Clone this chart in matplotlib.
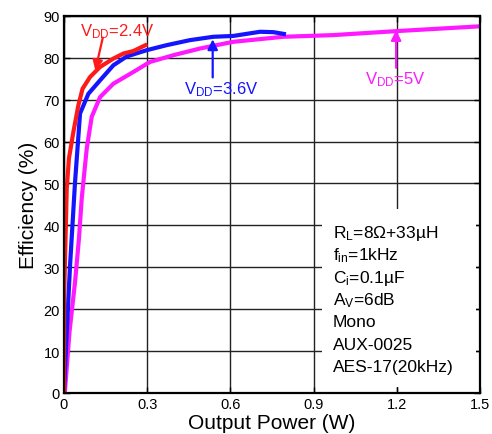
import matplotlib
matplotlib.use("Agg")
import matplotlib.pyplot as plt
from matplotlib.patches import Rectangle

plt.rcParams["font.family"] = ["Liberation Sans", "DejaVu Sans"]
plt.rcParams["mathtext.default"] = "regular"

# Efficiency vs output power
power_24 = [0.0, 0.001, 0.01, 0.018, 0.034, 0.052, 0.067, 0.094, 0.13, 0.178, 0.214, 0.25, 0.30]
eff_24 = [0.0, 24.0, 48.8, 56.0, 62.3, 68.7, 72.6, 75.4, 77.8, 79.8, 81.0, 81.6, 83.2]

power_36 = [0.0, 0.01, 0.022, 0.04, 0.058, 0.088, 0.13, 0.178, 0.226, 0.298, 0.37, 0.454, 0.538,
            0.61, 0.707, 0.755, 0.80]
eff_36 = [0.0, 14.6, 30.5, 50.4, 66.7, 71.4, 74.6, 78.2, 80.3, 81.8, 83.0, 84.2, 85.0,
          85.2, 86.2, 86.1, 85.6]

power_50 = [0.003, 0.02, 0.04, 0.054, 0.064, 0.082, 0.10, 0.13, 0.178, 0.25, 0.31, 0.394, 0.49,
            0.61, 0.79, 0.97, 1.21, 1.50]
eff_50 = [0.0, 14.6, 26.5, 36.8, 46.4, 58.3, 65.9, 70.6, 73.8, 76.6, 79.0, 80.6, 82.2,
          83.8, 85.0, 85.4, 86.4, 87.5]

x_ticks = [0, 0.3, 0.6, 0.9, 1.2, 1.5]
x_tick_labels = ["0", "0.3", "0.6", "0.9", "1.2", "1.5"]
y_ticks = [0, 10, 20, 30, 40, 50, 60, 70, 80, 90]

conditions = [
    "R$_L$=8\u03a9+33\u00b5H",
    "f$_{in}$=1kHz",
    "C$_i$=0.1\u00b5F",
    "A$_V$=6dB",
    "Mono",
    "AUX-0025",
    "AES-17(20kHz)",
]

RED = "#ff1a1a"
BLUE = "#1414ff"
MAGENTA = "#ff19ff"

fig = plt.figure(figsize=(4.92, 4.35), dpi=100)
ax = fig.add_axes([0.130, 0.0943, 0.846, 0.867])

ax.set_xlim(0, 1.5)
ax.set_ylim(0, 90)
ax.set_xticks(x_ticks)
ax.set_xticklabels(x_tick_labels)
ax.set_yticks(y_ticks)
ax.tick_params(direction="in", length=4, width=1, labelsize=10.5, top=True, right=True, pad=3)
ax.grid(True, color="#222222", linewidth=1.0, zorder=0)
for spine in ax.spines.values():
    spine.set_linewidth(1.6)
    spine.set_zorder(5)

# white panel behind the test conditions, hides the grid there
ax.add_patch(Rectangle((0.93, 1.4), 0.555, 42.5, facecolor="white", edgecolor="none", zorder=2))

ax.plot(power_50, eff_50, color=MAGENTA, linewidth=3, zorder=3, solid_capstyle="butt")
ax.plot(power_36, eff_36, color=BLUE, linewidth=3, zorder=3, solid_capstyle="butt")
ax.plot(power_24, eff_24, color=RED, linewidth=3, zorder=3, solid_capstyle="butt")

arrow_kw = dict(arrowstyle="-|>", mutation_scale=15, linewidth=1.6, shrinkA=0, shrinkB=0)
ax.annotate("", xy=(0.113, 77.0), xytext=(0.14, 84.8),
            arrowprops=dict(color=RED, **arrow_kw), zorder=4)
ax.text(0.058, 86.4, "V$_{DD}$=2.4V", color=RED, fontsize=12, ha="left", va="center", zorder=4)

ax.annotate("", xy=(0.536, 84.4), xytext=(0.536, 75.3),
            arrowprops=dict(color=BLUE, **arrow_kw), zorder=4)
ax.text(0.433, 72.6, "V$_{DD}$=3.6V", color=BLUE, fontsize=12, ha="left", va="center", zorder=4)

ax.annotate("", xy=(1.197, 86.6), xytext=(1.197, 77.6),
            arrowprops=dict(color=MAGENTA, **arrow_kw), zorder=4)
ax.text(1.085, 74.9, "V$_{DD}$=5V", color=MAGENTA, fontsize=12, ha="left", va="center", zorder=4)

# test conditions, one line at a time so the spacing stays even
for i, line in enumerate(conditions):
    ax.text(0.97, 37.2 - 5.32 * i, line, fontsize=12.5, ha="left", va="baseline", zorder=4)

ax.set_xlabel("Output Power (W)", fontsize=15, labelpad=1)
ax.set_ylabel("Efficiency (%)", fontsize=15, labelpad=4)

fig.savefig("out.png", dpi=100)
